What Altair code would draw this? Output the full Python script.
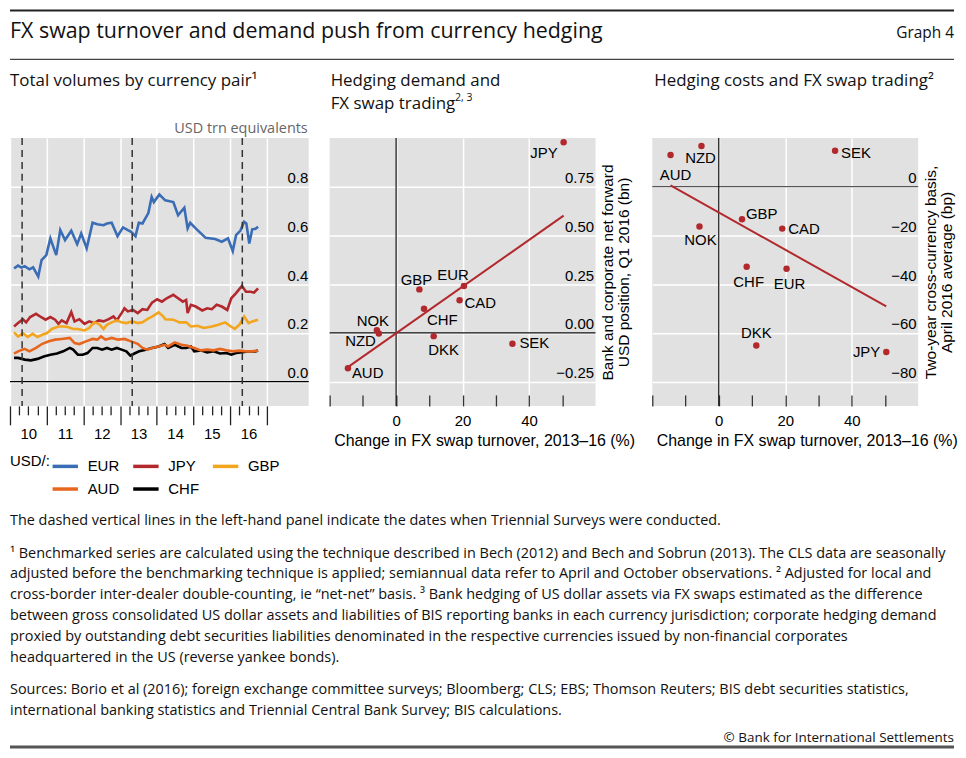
import altair as alt
import pandas as pd

# ---------------- data ----------------
series_names = ["EUR", "JPY", "GBP", "AUD", "CHF"]
series_colors = ["#3A6DB5", "#B3282D", "#F2A51D", "#E7661E", "#000000"]

eur_year = [2010.11, 2010.22, 2010.31, 2010.40, 2010.53, 2010.63, 2010.77, 2010.86, 2010.99,
            2011.10, 2011.26, 2011.37, 2011.50, 2011.67, 2011.83, 2011.94,
            2012.09, 2012.25, 2012.38, 2012.55, 2012.64, 2012.77, 2012.93,
            2013.08, 2013.21, 2013.30, 2013.42, 2013.51, 2013.61, 2013.77, 2013.86, 2013.92,
            2014.07, 2014.23, 2014.45, 2014.58, 2014.75, 2014.84, 2014.91,
            2015.06, 2015.33, 2015.59, 2015.77, 2015.94,
            2016.07, 2016.16, 2016.28, 2016.38, 2016.44, 2016.52, 2016.60, 2016.69, 2016.76]
eur_val = [0.465, 0.476, 0.468, 0.474, 0.461, 0.469, 0.431, 0.499, 0.519,
           0.588, 0.519, 0.622, 0.581, 0.619, 0.564, 0.608,
           0.547, 0.652, 0.646, 0.642, 0.649, 0.652, 0.597,
           0.633, 0.622, 0.615, 0.597, 0.652, 0.649, 0.692, 0.758, 0.737,
           0.768, 0.744, 0.737, 0.683, 0.714, 0.629, 0.652,
           0.629, 0.590, 0.585, 0.574, 0.588,
           0.536, 0.601, 0.620, 0.656, 0.649, 0.567, 0.625, 0.627, 0.636]

jpy_year = [2010.11, 2010.22, 2010.35, 2010.44, 2010.55, 2010.71, 2010.84, 2010.97,
            2011.10, 2011.23, 2011.32, 2011.41, 2011.54, 2011.67, 2011.76, 2011.89,
            2012.03, 2012.16, 2012.29, 2012.42, 2012.55, 2012.69, 2012.82, 2012.91,
            2013.04, 2013.12, 2013.21, 2013.35, 2013.48, 2013.61, 2013.74, 2013.87,
            2014.01, 2014.14, 2014.27, 2014.45, 2014.58, 2014.71, 2014.80, 2014.84, 2014.93,
            2015.06, 2015.24, 2015.37, 2015.50, 2015.63, 2015.77, 2015.92,
            2016.03, 2016.16, 2016.32, 2016.43, 2016.56, 2016.65, 2016.76]
jpy_val = [0.226, 0.240, 0.256, 0.243, 0.265, 0.278, 0.265, 0.254,
           0.265, 0.254, 0.237, 0.251, 0.240, 0.285, 0.247, 0.256,
           0.237, 0.247, 0.240, 0.251, 0.247, 0.256, 0.267, 0.251,
           0.281, 0.301, 0.288, 0.294, 0.281, 0.297, 0.294, 0.324,
           0.338, 0.328, 0.342, 0.356, 0.342, 0.328, 0.335, 0.281, 0.315,
           0.308, 0.292, 0.301, 0.297, 0.315, 0.308, 0.294,
           0.342, 0.363, 0.393, 0.369, 0.369, 0.365, 0.383]

gbp_year = [2010.11, 2010.22, 2010.35, 2010.48, 2010.62, 2010.75, 2010.88,
            2011.01, 2011.14, 2011.32, 2011.45, 2011.58, 2011.72, 2011.85,
            2012.03, 2012.16, 2012.29, 2012.42, 2012.55, 2012.64, 2012.77, 2012.91,
            2013.04, 2013.17, 2013.33, 2013.48, 2013.61, 2013.74, 2013.87,
            2014.05, 2014.18, 2014.23, 2014.45, 2014.62, 2014.80, 2014.93,
            2015.11, 2015.28, 2015.50, 2015.68, 2015.86, 2015.99,
            2016.12, 2016.25, 2016.38, 2016.50, 2016.60, 2016.76]
gbp_val = [0.202, 0.185, 0.199, 0.183, 0.196, 0.183, 0.192,
           0.199, 0.216, 0.226, 0.226, 0.224, 0.216, 0.216,
           0.210, 0.220, 0.243, 0.237, 0.216, 0.233, 0.243, 0.251,
           0.243, 0.240, 0.247, 0.240, 0.243, 0.256, 0.267,
           0.284, 0.267, 0.256, 0.254, 0.243, 0.243, 0.226,
           0.229, 0.220, 0.226, 0.233, 0.243, 0.229,
           0.216, 0.233, 0.267, 0.240, 0.247, 0.254]

aud_year = [2010.11, 2010.22, 2010.40, 2010.53, 2010.71, 2010.88,
            2011.06, 2011.23, 2011.41, 2011.63, 2011.76, 2011.89,
            2012.07, 2012.25, 2012.38, 2012.48, 2012.60, 2012.77, 2012.95,
            2013.12, 2013.30, 2013.48, 2013.61, 2013.74, 2013.87,
            2014.05, 2014.21, 2014.31, 2014.49, 2014.67, 2014.84,
            2015.02, 2015.20, 2015.37, 2015.55, 2015.72, 2015.90,
            2016.08, 2016.25, 2016.43, 2016.60, 2016.76]
aud_val = [0.115, 0.124, 0.134, 0.124, 0.138, 0.155,
           0.165, 0.172, 0.175, 0.179, 0.158, 0.154,
           0.165, 0.175, 0.172, 0.185, 0.172, 0.179, 0.172,
           0.175, 0.165, 0.155, 0.138, 0.131, 0.138,
           0.144, 0.151, 0.144, 0.161, 0.151, 0.147,
           0.138, 0.128, 0.131, 0.128, 0.134, 0.128,
           0.124, 0.127, 0.124, 0.124, 0.127]

chf_year = [2010.11, 2010.22, 2010.40, 2010.57, 2010.75, 2010.92,
            2011.10, 2011.28, 2011.45, 2011.63, 2011.72, 2011.85, 2011.98,
            2012.11, 2012.25, 2012.38, 2012.51, 2012.64, 2012.77, 2012.91,
            2013.04, 2013.17, 2013.28, 2013.39, 2013.52, 2013.70, 2013.87,
            2014.05, 2014.21, 2014.31, 2014.49, 2014.67, 2014.80, 2014.93,
            2015.02, 2015.20, 2015.37, 2015.55, 2015.72, 2015.90,
            2016.03, 2016.16, 2016.34, 2016.52, 2016.69, 2016.76]
chf_val = [0.097, 0.097, 0.090, 0.087, 0.093, 0.103,
           0.110, 0.115, 0.124, 0.138, 0.131, 0.110, 0.110,
           0.117, 0.138, 0.138, 0.131, 0.138, 0.131, 0.138,
           0.131, 0.124, 0.106, 0.115, 0.124, 0.131, 0.138,
           0.144, 0.154, 0.138, 0.151, 0.138, 0.138, 0.144,
           0.124, 0.128, 0.120, 0.124, 0.115, 0.117,
           0.110, 0.117, 0.120, 0.124, 0.124, 0.127]

survey_dates = [2010.33, 2013.33, 2016.33]

currencies = ["JPY", "GBP", "EUR", "CAD", "CHF", "NOK", "NZD", "DKK", "SEK", "AUD"]
turnover_change = [50.4, 7.0, 20.4, 19.1, 8.4, -5.8, -5.2, 11.3, 35.0, -14.5]
hedging_demand = [0.978, 0.223, 0.240, 0.167, 0.124, 0.014, -0.003, -0.017, -0.056, -0.182]
basis_bp = [-67.9, -13.4, -33.7, -17.2, -32.9, -16.3, 16.7, -65.2, 14.8, 13.0]

year_bounds = [2010, 2011, 2012, 2013, 2014, 2015, 2016, 2017]
quarter_ticks = [2010.25, 2010.5, 2010.75, 2011.25, 2011.5, 2011.75, 2012.25, 2012.5, 2012.75,
                 2013.25, 2013.5, 2013.75, 2014.25, 2014.5, 2014.75, 2015.25, 2015.5, 2015.75,
                 2016.25, 2016.5, 2016.75]
year_label_pos = [2010.5, 2011.5, 2012.5, 2013.5, 2014.5, 2015.5, 2016.5]
left_y_ticks = [0.0, 0.2, 0.4, 0.6, 0.8]
mid_y_ticks = [-0.25, 0.0, 0.25, 0.5, 0.75]
right_y_ticks = [-80, -60, -40, -20, 0]
scatter_x_ticks = [-20, -10, 0, 10, 20, 30, 40, 50]
scatter_x_labels = [0, 20, 40]

title_text = "FX swap turnover and demand push from currency hedging"
graph_no = "Graph 4"
panel1_title = "Total volumes by currency pair¹"
panel2_title = ["Hedging demand and", "FX swap trading"]
panel2_sup = "2, 3"
panel3_title = "Hedging costs and FX swap trading²"
unit_text = "USD trn equivalents"
mid_ytitle = ["Bank and corporate net forward", "USD position, Q1 2016 (bn)"]
right_ytitle = ["Two-year cross-currency basis,", "April 2016 average (bp)"]
xtitle = "Change in FX swap turnover, 2013–16 (%)"
note_text = "The dashed vertical lines in the left-hand panel indicate the dates when Triennial Surveys were conducted."
footnote_lines = [
    "¹  Benchmarked series are calculated using the technique described in Bech (2012) and Bech and Sobrun (2013). The CLS data are seasonally",
    "adjusted before the benchmarking technique is applied; semiannual data refer to April and October observations.    ²  Adjusted for local and",
    "cross-border inter-dealer double-counting, ie “net-net” basis.    ³  Bank hedging of US dollar assets via FX swaps estimated as the difference",
    "between gross consolidated US dollar assets and liabilities of BIS reporting banks in each currency jurisdiction; corporate hedging demand",
    "proxied by outstanding debt securities liabilities denominated in the respective currencies issued by non-financial corporates",
    "headquartered in the US (reverse yankee bonds).",
]
source_lines = [
    "Sources: Borio et al (2016); foreign exchange committee surveys; Bloomberg; CLS; EBS; Thomson Reuters; BIS debt securities statistics,",
    "international banking statistics and Triennial Central Bank Survey; BIS calculations.",
]
copyright_text = "© Bank for International Settlements"

# ---------------- styles / layout ----------------
ARIAL = "Liberation Sans"
SANS = "Open Sans"
RED = "#B2292D"
BG = "#E1E1E1"
W_LEFT, W_SC, H = 300, 267, 269
FULL_W = 948
FOOT_SIZE = 14.5

mid_label_pos = {  # align, dx, dy
    "JPY": ("right", -6, 11), "GBP": ("center", -3, -9), "EUR": ("center", -11, -11),
    "CAD": ("left", 5, 3), "CHF": ("left", 3, 11), "NOK": ("center", -4, -9),
    "NZD": ("right", -3, 8), "DKK": ("center", 10, 14), "SEK": ("left", 7, -1),
    "AUD": ("left", 4, 5),
}
right_label_pos = {
    "AUD": ("center", 5, 20), "NZD": ("center", -1, 12), "SEK": ("left", 6, 2),
    "GBP": ("left", 4, -5), "NOK": ("center", 1, 14), "CAD": ("left", 6, 0),
    "CHF": ("center", 2, 15), "EUR": ("center", 3, 15), "DKK": ("center", 0, -13),
    "JPY": ("right", -6, 0),
}


def txt(s, x, y, size, font=SANS, align="left", color="#111111", baseline="alphabetic"):
    return alt.Chart(pd.DataFrame({"t": [s]})).mark_text(
        align=align, baseline=baseline, font=font, fontSize=size, color=color
    ).encode(x=alt.value(x), y=alt.value(y), text="t:N")


def hrule(y, width, color, x0=0, x1=FULL_W):
    return alt.Chart(pd.DataFrame({"a": [0]})).mark_rule(color=color, strokeWidth=width).encode(
        x=alt.value(x0), x2=alt.value(x1), y=alt.value(y))


# ---------------- left panel ----------------
frames = []
for name, yrs, vals in [("EUR", eur_year, eur_val), ("JPY", jpy_year, jpy_val),
                        ("GBP", gbp_year, gbp_val), ("CHF", chf_year, chf_val),
                        ("AUD", aud_year, aud_val)]:
    frames.append(pd.DataFrame({"year": yrs, "value": vals, "pair": name}))
ts = pd.concat(frames, ignore_index=True)

xs_left = alt.Scale(domain=[2010, 2018.14], nice=False, zero=False)
ys_left = alt.Scale(domain=[-0.1, 1.0], nice=False, zero=False)

ax_year = alt.Axis(values=year_bounds, orient="bottom", grid=True, gridColor="white", gridWidth=1.5,
                   ticks=True, tickSize=19, tickColor="#222222", tickWidth=1.3, labels=False,
                   domain=False, title=None)
ax_quarter = alt.Axis(values=quarter_ticks, orient="bottom", grid=False, ticks=True, tickSize=9,
                      tickColor="#222222", tickWidth=1.3, labels=False, domain=False, title=None)
ax_yearlab = alt.Axis(values=year_label_pos, orient="bottom", grid=False, ticks=False, tickSize=0,
                      labelExpr="format(floor(datum.value) - 2000, '02d')", labelPadding=21,
                      labelFlush=False, labelOverlap=False, domain=False, title=None)
ax_left_y = alt.Axis(values=left_y_ticks, orient="right", grid=True, gridColor="white", gridWidth=1.5,
                     ticks=False, tickSize=0, domain=False, labelAlign="right", labelPadding=-1,
                     labelBaseline="alphabetic", labelOffset=-4, format=".1f", labelOverlap=False,
                     title=None)

legend = alt.Legend(title="USD/:", orient="none", legendX=0, legendY=315, titleOrient="left",
                    titleAnchor="start", titleBaseline="line-top", titleLineHeight=20,
                    titleFont=ARIAL, titleFontSize=15, titleFontWeight="normal", titleColor="black",
                    titlePadding=0, columns=3, direction="horizontal", symbolType="stroke",
                    symbolSize=650, symbolStrokeWidth=3.5, labelFont=ARIAL, labelFontSize=15,
                    labelColor="black", labelOffset=8, columnPadding=6, rowPadding=-9, padding=0)

zero_left = alt.Chart(pd.DataFrame({"v": [0.0]})).mark_rule(color="black", strokeWidth=1.3).encode(
    y=alt.Y("v:Q", scale=ys_left, axis=None))
lines = alt.Chart(ts).mark_line(strokeWidth=2.6).encode(
    x=alt.X("year:Q", scale=xs_left, axis=ax_year),
    y=alt.Y("value:Q", scale=ys_left, axis=ax_left_y),
    color=alt.Color("pair:N", scale=alt.Scale(domain=series_names, range=series_colors), legend=legend),
)
surveys = alt.Chart(pd.DataFrame({"date": survey_dates})).mark_rule(
    color="#333333", strokeWidth=1.5, strokeDash=[7, 5]).encode(
    x=alt.X("date:Q", scale=xs_left, axis=ax_quarter))
year_labels = alt.Chart(pd.DataFrame({"year": year_label_pos})).mark_point(opacity=0).encode(
    x=alt.X("year:Q", scale=xs_left, axis=ax_yearlab))

deco = [
    hrule(-128, 2, "#222222"),
    txt(title_text, 0, -100, 21.5),
    txt(graph_no, FULL_W, -100, 15.5, align="right"),
    hrule(-79, 1.2, "#444444"),
    txt(panel1_title, 0, -52, 17),
    txt(panel2_title[0], 322, -52, 17),
    txt(panel2_title[1], 322, -29, 17),
    txt(panel2_sup, 447, -37, 10.5),
    txt(panel3_title, 647, -52, 17),
    txt(unit_text, W_LEFT - 1, -5, 14.5, align="right", color="#666666"),
    txt(note_text, 0, 388.5, FOOT_SIZE),
]
for i, line in enumerate(footnote_lines):
    deco.append(txt(line, 0, 421.3 + 21 * i, FOOT_SIZE))
for i, line in enumerate(source_lines):
    deco.append(txt(line, 0, 558 + 21.5 * i, FOOT_SIZE))
deco.append(txt(copyright_text, FULL_W, 607, 13.5, align="right"))
deco.append(hrule(611.5, 3, "#555555"))

left = alt.layer(zero_left, lines, surveys, year_labels, *deco).resolve_axis(
    x="independent", y="independent").properties(width=W_LEFT, height=H)

# ---------------- scatter panels ----------------
sc = pd.DataFrame({"cur": currencies, "turn": turnover_change, "hedge": hedging_demand, "basis": basis_bp})
xs_sc = alt.Scale(domain=[-20, 60], nice=False, zero=False)


def scatter_panel(ycol, yscale, yticks, yfmt, ytitle, label_pos, hzero_color):
    ax_ticks = alt.Axis(values=scatter_x_ticks, orient="bottom", offset=-11, ticks=True, tickSize=11,
                        tickColor="#333333", tickWidth=1.3, grid=False, labels=False, domain=False,
                        title=None)
    ax_x = alt.Axis(values=scatter_x_labels, orient="bottom", grid=True, gridColor="white",
                    gridWidth=1.5, ticks=False, tickSize=0, labelPadding=7.5, labelFlush=False,
                    labelOverlap=False, domain=False, title=xtitle, titleX=4, titleY=40,
                    titleAlign="left", titleBaseline="alphabetic", titleFontSize=16)
    ax_y = alt.Axis(values=yticks, orient="right", grid=True, gridColor="white", gridWidth=1.5,
                    ticks=False, tickSize=0, domain=False, labelAlign="right", labelPadding=-2,
                    labelBaseline="alphabetic", labelOffset=-4, format=yfmt, labelOverlap=False,
                    title=ytitle, titleAngle=270, titleX=5, titleY=H / 2, titleAlign="center",
                    titleBaseline="top", titleLineHeight=16.5)
    hz = alt.Chart(pd.DataFrame({"v": [0.0]})).mark_rule(color=hzero_color, strokeWidth=1.3).encode(
        y=alt.Y("v:Q", scale=yscale, axis=None))
    vz = alt.Chart(pd.DataFrame({"v": [0.0]})).mark_rule(color="#111111", strokeWidth=1.2).encode(
        x=alt.X("v:Q", scale=xs_sc, axis=None))
    reg = alt.Chart(sc).transform_regression("turn", ycol).mark_line(color=RED, strokeWidth=2).encode(
        x=alt.X("turn:Q", scale=xs_sc, axis=ax_ticks),
        y=alt.Y(f"{ycol}:Q", scale=yscale, axis=None))
    pts = alt.Chart(sc).mark_circle(size=42, color=RED, opacity=1).encode(
        x=alt.X("turn:Q", scale=xs_sc, axis=ax_x),
        y=alt.Y(f"{ycol}:Q", scale=yscale, axis=ax_y))
    labels = []
    for cur, (al, dx, dy) in label_pos.items():
        labels.append(
            alt.Chart(sc).transform_filter(alt.datum.cur == cur).mark_text(
                align=al, baseline="middle", dx=dx, dy=dy, font=ARIAL, fontSize=15, color="black"
            ).encode(x=alt.X("turn:Q", scale=xs_sc, axis=None),
                     y=alt.Y(f"{ycol}:Q", scale=yscale, axis=None), text="cur:N"))
    return alt.layer(hz, vz, reg, pts, *labels).resolve_axis(
        x="independent", y="independent").properties(width=W_SC, height=H)


mid = scatter_panel("hedge", alt.Scale(domain=[-0.375, 1.0], nice=False, zero=False), mid_y_ticks,
                    ".2f", mid_ytitle, mid_label_pos, "#111111")
right = scatter_panel("basis", alt.Scale(domain=[-90, 20], nice=False, zero=False), right_y_ticks,
                      "d", right_ytitle, right_label_pos, "#555555")


def spacer(w):
    return alt.Chart(pd.DataFrame({"a": [0]})).mark_point(opacity=0).encode(
        x=alt.value(0), y=alt.value(0)).properties(
        width=w, height=H, view=alt.ViewBackground(fill="transparent", strokeWidth=0))


chart = alt.hconcat(left, spacer(21), mid, spacer(57), right, spacing=0, bounds="flush").properties(
    padding=0
).configure_view(fill=BG, strokeWidth=0).configure_axis(
    labelFont=ARIAL, labelFontSize=15, labelColor="black", titleFont=ARIAL, titleFontSize=15.5,
    titleFontWeight="normal", titleColor="black"
)

chart.save("out.html", embed_options={"renderer": "svg", "actions": False})
